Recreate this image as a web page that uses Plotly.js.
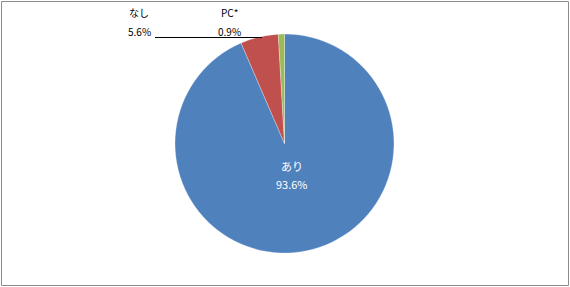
<!DOCTYPE html>
<html><head><meta charset="utf-8">
<script src="https://cdn.plot.ly/plotly-3.0.1.min.js"></script>
<style>html,body{margin:0;padding:0;background:#fff}#c{width:570px;height:287px}</style>
</head><body><div id="c"></div>
<script>
var categories = ['あり', 'なし', 'PC*'];
var values = [93.6, 5.6, 0.9];
var valueLabels = ['93.6%', '5.6%', '0.9%'];
var colors = ['#4F81BD', '#C0504D', '#9BBB59'];

var W = 570, H = 287;
function px(x){return x / W;}
function py(y){return 1 - y / H;}

var trace = {
  type: 'pie', labels: categories, values: values, sort: false,
  direction: 'clockwise', rotation: 0, textinfo: 'none', hoverinfo: 'none',
  marker: {colors: colors, line: {color: '#ffffff', width: 0.3}},
  domain: {x: [px(175), px(394)], y: [py(253), py(34)]},
  showlegend: false
};

var font = {family: 'Noto Sans CJK JP, sans-serif', size: 10, color: '#000'};
var wfont = {family: 'Noto Sans CJK JP, sans-serif', size: 11, color: '#fff'};
var labelPos = [[292, 166, 184], [139, 13, 31], [229, 13, 31]];
var annotations = [];
categories.forEach(function(c, i){
  var p = labelPos[i];
  var f = i === 0 ? wfont : font;
  annotations.push({xref:'paper', yref:'paper', x:px(p[0]), y:py(p[1]), text:c, showarrow:false, font:f, xanchor:'center', yanchor:'middle'});
  annotations.push({xref:'paper', yref:'paper', x:px(p[0]), y:py(p[2]), text:valueLabels[i], showarrow:false, font:f, xanchor:'center', yanchor:'middle'});
});

var layout = {
  width: W, height: H, margin: {l:0, r:0, t:0, b:0},
  paper_bgcolor: '#fff', plot_bgcolor: '#fff',
  annotations: annotations,
  shapes: [
    {type:'rect', xref:'paper', yref:'paper', x0:px(1.5), x1:px(568.5), y0:py(285.5), y1:py(1.5), line:{color:'#8c8c8c', width:1}},
    {type:'line', xref:'paper', yref:'paper', x0:px(155), x1:px(262), y0:py(37.5), y1:py(37.5), line:{color:'#000', width:1}}
  ]
};
Plotly.newPlot('c', [trace], layout, {staticPlot: true, displayModeBar: false});
</script></body></html>
